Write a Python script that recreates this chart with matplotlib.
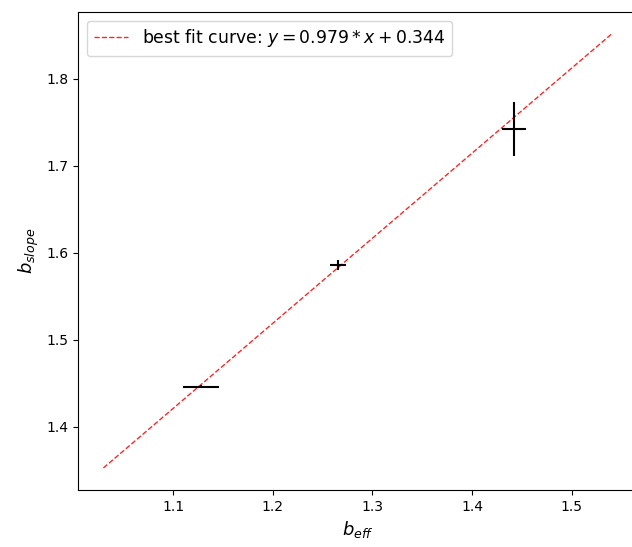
import numpy as np
import matplotlib
matplotlib.use("Agg")
import matplotlib.pyplot as plt

# measured points with their uncertainties
b_eff = [1.128, 1.265, 1.442]
b_eff_err = [0.018, 0.008, 0.012]
b_slope = [1.446, 1.586, 1.7425]
b_slope_err = [0.002, 0.006, 0.031]

# linear fit parameters and range of the drawn fit
fit_slope = 0.979
fit_intercept = 0.344
fit_range = [1.03, 1.54]

fig = plt.figure(figsize=(6.32, 5.47), dpi=100)
ax = fig.add_axes([78 / 632, 57 / 547, 559 / 632, 478 / 547])

x_fit = np.array(fit_range)
ax.plot(x_fit, fit_slope * x_fit + fit_intercept, "r--", lw=1, alpha=0.85,
        label=r"best fit curve: $y = %.3f * x + %.3f$" % (fit_slope, fit_intercept))
ax.errorbar(b_eff, b_slope, xerr=b_eff_err, yerr=b_slope_err,
            fmt="none", ecolor="black", elinewidth=1.5)

ax.set_xlim(1.0045, 1.5655)
ax.set_ylim(1.327, 1.877)
ax.set_xticks([1.1, 1.2, 1.3, 1.4, 1.5])
ax.set_yticks([1.4, 1.5, 1.6, 1.7, 1.8])
ax.set_xlabel(r"$b_{eff}$", fontsize=13)
ax.set_ylabel(r"$b_{slope}$", fontsize=13)
ax.legend(loc="upper left", fontsize=12.4)

fig.savefig("out.png", dpi=100)
